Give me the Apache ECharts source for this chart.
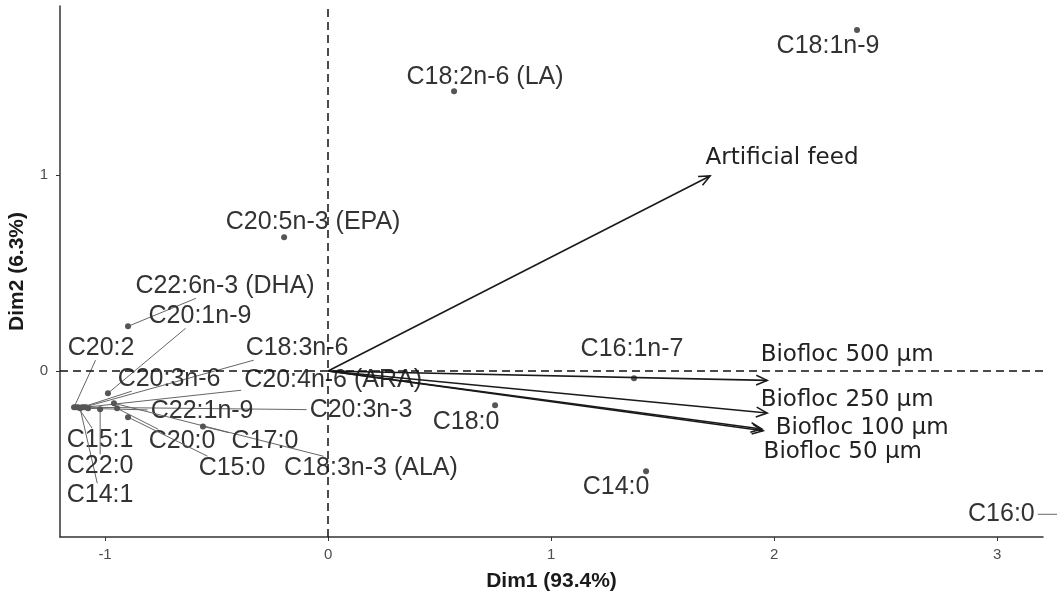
<!DOCTYPE html>
<html>
<head>
<meta charset="utf-8">
<title>PCA biplot</title>
<script src="https://cdn.jsdelivr.net/npm/echarts@6/dist/echarts.min.js"></script>
<style>
  html, body { margin: 0; padding: 0; background: #fff; }
  #chart { width: 1057px; height: 599px; }
</style>
</head>
<body>
<div id="chart"></div>
<script>
// individuals (fatty acids), coordinates on Dim1 / Dim2
const indNames = ['C18:1n-9', 'C18:2n-6 (LA)', 'C20:5n-3 (EPA)', 'C22:6n-3 (DHA)', 'C20:1n-9', 'C20:2',
  'C15:1', 'C14:1', 'C20:3n-3', 'C18:3n-6', 'C20:4n-6 (ARA)', 'C20:3n-6', 'C22:1n-9', 'C22:0',
  'C18:3n-3 (ALA)', 'C20:0', 'C15:0', 'C17:0', 'C18:0', 'C14:0', 'C16:1n-7', 'C16:0'];
const indX = [2.372, 0.565, -0.197, -0.897, -0.987, -1.139, -1.121, -1.112, -1.130, -1.094, -1.085, -1.103,
  -1.076, -1.022, -0.960, -0.946, -0.897, -0.561, 0.749, 1.426, 1.372, 3.45];
const indY = [1.741, 1.429, 0.683, 0.228, -0.114, -0.185, -0.185, -0.191, -0.185, -0.185, -0.185, -0.185,
  -0.191, -0.196, -0.165, -0.191, -0.236, -0.283, -0.175, -0.512, -0.037, -0.732];

// variables (feeds), arrow tips
const varNames = ['Artificial feed', 'Biofloc 500 µm', 'Biofloc 250 µm', 'Biofloc 100 µm', 'Biofloc 50 µm'];
const varX = [1.713, 1.969, 1.969, 1.951, 1.945];
const varY = [0.996, -0.048, -0.215, -0.305, -0.296];

const xTicks = [-1, 0, 1, 2, 3];
const yTicks = [0, 1];

// label placement (pixel offsets from the point, repel-style)
const indLabelOffsets = [[-29, 16], [31, -14], [29, -15], [97, -40], [92, -77], [27, -59], [22, 33], [20, 87],
  [285, 3], [213, -59], [247, -27], [87, -28], [114, 3], [0, 57], [257, 65], [65, 33], [104, 51], [62, 15],
  [-29, 17], [-30, 16], [-2, -29], [-96, 0]];
const varLabelOffsets = [[72, -18], [80, -25], [80, -13], [99, -3], [81, 23]];

const indFont = '25px "Liberation Sans", Arial, sans-serif';
const varFont = '23px "DejaVu Sans", sans-serif';

const measureCtx = document.createElement('canvas').getContext('2d');
function textWidth(txt, font) {
  measureCtx.font = font;
  return measureCtx.measureText(txt).width;
}

// end of the segment from point p towards label centre c, stopped at the label box
function clipToBox(p, c, hw, hh) {
  const dx = p[0] - c[0], dy = p[1] - c[1];
  const t = Math.min(dx === 0 ? Infinity : hw / Math.abs(dx), dy === 0 ? Infinity : hh / Math.abs(dy));
  if (t >= 1) return null;
  return [c[0] + dx * t, c[1] + dy * t];
}

function renderInd(params, api) {
  const i = params.dataIndex;
  const p = api.coord([api.value(0), api.value(1)]);
  const off = indLabelOffsets[i];
  const cx = p[0] + off[0], cy = p[1] + off[1];
  const hw = textWidth(indNames[i], indFont) / 2 + 3;
  const children = [];
  const end = clipToBox(p, [cx, cy], hw, 12);
  if (end && Math.hypot(end[0] - p[0], end[1] - p[1]) > 20) {
    children.push({
      type: 'line',
      shape: { x1: p[0], y1: p[1], x2: end[0], y2: end[1] },
      style: { stroke: '#666', lineWidth: 1 }
    });
  }
  children.push({ type: 'circle', shape: { cx: p[0], cy: p[1], r: 3 }, style: { fill: '#555' } });
  children.push({
    type: 'text', x: cx, y: cy,
    style: { text: indNames[i], font: indFont, fill: '#333', align: 'center', verticalAlign: 'middle' }
  });
  return { type: 'group', children: children };
}

function renderVar(params, api) {
  const i = params.dataIndex;
  const o = api.coord([0, 0]);
  const t = api.coord([api.value(0), api.value(1)]);
  const a = Math.atan2(t[1] - o[1], t[0] - o[0]);
  const L = 12, th = 0.42;
  const stroke = { stroke: '#1a1a1a', lineWidth: 1.6 };
  const off = varLabelOffsets[i];
  return {
    type: 'group',
    children: [
      { type: 'line', shape: { x1: o[0], y1: o[1], x2: t[0], y2: t[1] }, style: stroke },
      {
        type: 'polyline',
        shape: { points: [
          [t[0] - L * Math.cos(a - th), t[1] - L * Math.sin(a - th)],
          t,
          [t[0] - L * Math.cos(a + th), t[1] - L * Math.sin(a + th)]
        ] },
        style: { stroke: '#1a1a1a', lineWidth: 1.6, fill: null }
      },
      {
        type: 'text', x: t[0] + off[0], y: t[1] + off[1],
        style: { text: varNames[i], font: varFont, fill: '#222', align: 'center', verticalAlign: 'middle' }
      }
    ]
  };
}

const chart = echarts.init(document.getElementById('chart'));
chart.setOption({
  animation: false,
  backgroundColor: '#fff',
  grid: { left: 60, right: 14, top: 6, bottom: 62, containLabel: false, outerBoundsMode: 'none' },
  xAxis: {
    type: 'value',
    min: -1.202,
    max: 3.206,
    name: 'Dim1 (93.4%)',
    nameLocation: 'middle',
    nameGap: 34,
    nameTextStyle: { fontFamily: 'Liberation Sans', fontWeight: 'bold', fontSize: 21, color: '#1a1a1a' },
    splitLine: { show: false },
    axisLine: { onZero: false, lineStyle: { color: '#333', width: 1.5 } },
    axisTick: { show: true, length: 4, customValues: xTicks, lineStyle: { color: '#333' } },
    axisLabel: { customValues: xTicks, margin: 10, fontSize: 15, color: '#4d4d4d', fontFamily: 'Liberation Sans' }
  },
  yAxis: {
    type: 'value',
    min: -0.848,
    max: 1.864,
    name: 'Dim2 (6.3%)',
    nameLocation: 'middle',
    nameGap: 32,
    nameTextStyle: { fontFamily: 'Liberation Sans', fontWeight: 'bold', fontSize: 21, color: '#1a1a1a' },
    splitLine: { show: false },
    axisLine: { show: true, onZero: false, lineStyle: { color: '#333', width: 1.5 } },
    axisTick: { show: true, length: 4, customValues: yTicks, lineStyle: { color: '#333' } },
    axisLabel: { customValues: yTicks, margin: 12, fontSize: 15, color: '#4d4d4d', fontFamily: 'Liberation Sans' }
  },
  series: [
    {
      type: 'scatter',
      data: [],
      silent: true,
      markLine: {
        silent: true,
        symbol: ['none', 'none'],
        label: { show: false },
        lineStyle: { color: '#111', width: 1.5, type: [8, 5] },
        data: [{ xAxis: 0 }, { yAxis: 0 }]
      }
    },
    {
      type: 'custom',
      silent: true,
      renderItem: renderInd,
      data: indX.map((x, i) => [x, indY[i]])
    },
    {
      type: 'custom',
      silent: true,
      renderItem: renderVar,
      data: varX.map((x, i) => [x, varY[i]])
    }
  ]
});
</script>
</body>
</html>
